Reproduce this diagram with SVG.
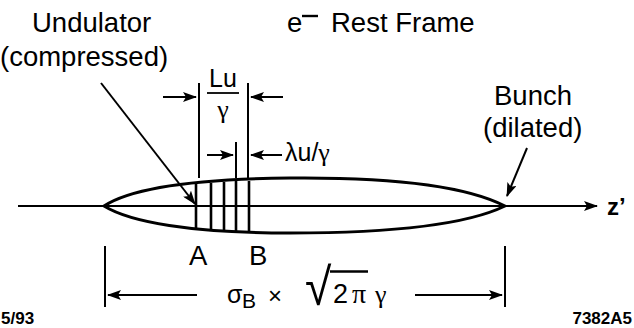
<svg xmlns="http://www.w3.org/2000/svg" width="634" height="328" viewBox="0 0 634 328">
<style>
  text { font-family: "Liberation Sans", Arial, sans-serif; fill: #000; }
  .lbl { font-size: 27.5px; }
  .sym { font-family: "Liberation Serif", "Times New Roman", serif; }
  .thin { stroke: #000; stroke-width: 2; fill: none; }
  .thick { stroke: #000; stroke-width: 3; fill: none; }
  .grid { stroke: #000; stroke-width: 2.6; fill: none; }
  .tag { font-size: 17px; font-weight: bold; }
</style>
<defs>
  <marker id="ah" viewBox="0 0 14 10" refX="13" refY="5" markerWidth="14" markerHeight="10" markerUnits="userSpaceOnUse" orient="auto">
    <path d="M0,0 L14,5 L0,10 L3,5 Z" fill="#000"/>
  </marker>
</defs>

<g id="labels">
  <text class="lbl" x="32" y="32">Undulator</text>
  <text class="lbl" x="0" y="66">(compressed)</text>
  <text class="lbl" x="287" y="32">e</text>
  <line x1="302" y1="16" x2="318" y2="16" stroke="#000" stroke-width="2.4"/>
  <text class="lbl" x="331" y="32">Rest Frame</text>
  <text class="lbl" x="494" y="105">Bunch</text>
  <text class="lbl" x="483" y="137">(dilated)</text>
  <text x="607" y="215" style="font-size:24px;font-weight:bold">z’</text>
  <text class="tag" x="1" y="324">5/93</text>
  <text class="tag" x="632" y="324" text-anchor="end">7382A5</text>
</g>

<g id="bunch">
  <path class="thick" d="M104,206 C130,189 190,179 290,178 C400,177 470,188 505,206 C470,223 400,233 290,233 C190,233 130,222 104,206 Z"/>
</g>

<g id="undulator">
  <line class="grid" x1="196" y1="184" x2="196" y2="229"/>
  <line class="grid" x1="211" y1="183" x2="211" y2="230"/>
  <line class="grid" x1="224" y1="182" x2="224" y2="231"/>
  <line class="grid" x1="236" y1="181" x2="236" y2="231"/>
  <line class="grid" x1="249" y1="181" x2="249" y2="232"/>
  <text class="lbl" x="189" y="265">A</text>
  <text class="lbl" x="249" y="265">B</text>
</g>

<g id="dim-Lu">
  <line class="thin" x1="199" y1="83" x2="199" y2="178"/>
  <line class="thin" x1="248" y1="83" x2="248" y2="178"/>
  <line class="thin" x1="236" y1="142" x2="236" y2="178"/>
  <text x="223" y="87" text-anchor="middle" style="font-size:25px">Lu</text>
  <line x1="207" y1="93" x2="239" y2="93" stroke="#000" stroke-width="1.8"/>
  <text class="sym" x="223" y="118" text-anchor="middle" style="font-size:26px">γ</text>
  <text x="285" y="161" style="font-size:25px">λu/<tspan class="sym" style="font-size:26px">γ</tspan></text>
</g>

<g id="dim-sigma">
  <line class="thin" x1="105" y1="246" x2="105" y2="307"/>
  <line class="thin" x1="505" y1="246" x2="505" y2="307"/>
  <text x="227" y="303" style="font-size:25px">σ</text>
  <text x="242" y="308" style="font-size:21px">B</text>
  <text x="268" y="304" style="font-size:24px">×</text>
  <text transform="translate(305,305) scale(1.6,1.75)" style="font-size:30px">√</text>
  <line x1="330" y1="271.5" x2="368" y2="271.5" stroke="#000" stroke-width="2.4"/>
  <text x="333" y="303" style="font-size:27px">2</text>
  <text class="sym" x="352" y="303" style="font-size:28px">π</text>
  <text class="sym" x="375" y="303" style="font-size:26px">γ</text>
</g>

<g id="connectors">
  <line class="thin" x1="18" y1="206" x2="597" y2="206" marker-end="url(#ah)"/>
  <line class="thin" x1="101" y1="83" x2="195" y2="204" marker-end="url(#ah)"/>
  <line class="thin" x1="527" y1="148" x2="507" y2="196" marker-end="url(#ah)"/>
  <line class="thin" x1="163" y1="97" x2="196" y2="97" marker-end="url(#ah)"/>
  <line class="thin" x1="283" y1="97" x2="251" y2="97" marker-end="url(#ah)"/>
  <line class="thin" x1="207" y1="155" x2="233" y2="155" marker-end="url(#ah)"/>
  <line class="thin" x1="282" y1="155" x2="251" y2="155" marker-end="url(#ah)"/>
  <line class="thin" x1="197" y1="295" x2="108" y2="295" marker-end="url(#ah)"/>
  <line class="thin" x1="415" y1="295" x2="502" y2="295" marker-end="url(#ah)"/>
</g>
</svg>
